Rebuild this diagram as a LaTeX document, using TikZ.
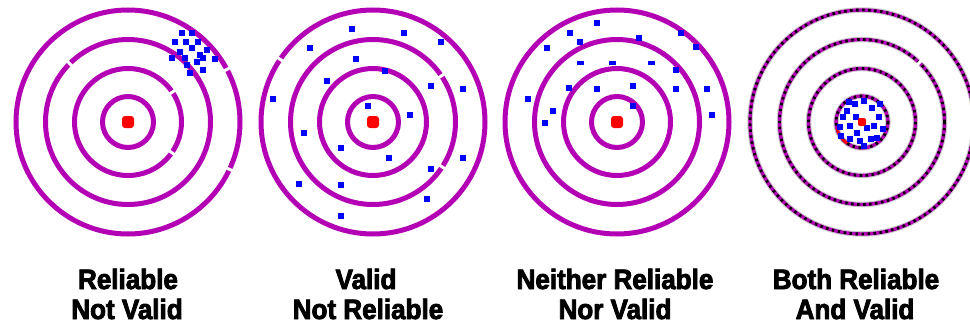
\documentclass[tikz,border=0pt]{standalone}
\usepackage{fontspec}
\newfontfamily\labfont{Liberation Sans Bold}[FakeStretch=0.93,FakeBold=3]
\definecolor{ringc}{RGB}{180,0,180}
\definecolor{hitc}{RGB}{0,0,255}
\definecolor{bullc}{RGB}{255,0,0}
\newcommand\ringgap[3]{\draw[gapline] ([shift={(#2-86/#3:#3)}]#1) arc[start angle=#2-86/#3, delta angle=172/#3, radius=#3];}
\begin{document}
\begin{tikzpicture}[x=1pt,y=-1pt,
  ring/.style={draw=ringc,line width=5pt},
  ringshade/.style={draw=gray!40,line width=5.5pt},
  ringmag/.style={draw=ringc,line width=3.4pt},
  ringdots/.style={draw=black,line width=2.8pt,dash pattern=on 2.4pt off 3.6pt},
  gapline/.style={draw=white,line width=8pt},
  bull/.style={rectangle,fill=bullc,minimum size=12pt,rounded corners=3pt,inner sep=0pt},
  hit/.style={fill=hitc},
  lab/.style={anchor=base,inner sep=0pt,font=\labfont\fontsize{28}{28}\selectfont}]
\useasboundingbox (0,0) rectangle (970,324);
\fill[white] (0,0) rectangle (970,324);
\clip (0,0) rectangle (970,324);
\coordinate (t1) at (128,122);
\coordinate (t2) at (373,122);
\coordinate (t3) at (617,122);
\coordinate (t4) at (862,122);
% target 1
\foreach \r in {112,82.5,53.5,25.5} \draw[ring] (t1) circle[radius=\r];
\ringgap{t1}{-28}{112}
\ringgap{t1}{25}{112}
\ringgap{t1}{-135}{82.5}
\ringgap{t1}{-34}{53.5}
\ringgap{t1}{35}{53.5}
\node[bull] (b1) at (t1) {};
\foreach \x/\y in {182/33,192/33,175/42,186/42,198/42,192/48,180/52,172/58,185/58,200/55,203/58,207/50,215/59,203/70,190/73,187/65,197/62}
  \fill[hit] (\x-3,\y-3) rectangle ++(6,6);
% target 2
\foreach \r in {112,82.5,53.5,25.5} \draw[ring] (t2) circle[radius=\r];
\ringgap{t2}{-146}{112}
\ringgap{t2}{-34}{82.5}
\ringgap{t2}{33}{82.5}
\node[bull] (b2) at (t2) {};
\foreach \x/\y in {352/29,404/33,441/42,310/48,356/59,385/71,327/81,431/86,463/89,273/99,368/106,410/115,304/133,341/148,389/158,463/158,431/169,299/184,341/185,427/199,341/216}
  \fill[hit] (\x-2.8,\y-2.8) rectangle ++(5.6,5.6);
% target 3
\foreach \r in {112,82.5,53.5,25.5} \draw[ring] (t3) circle[radius=\r];
\node[bull] (b3) at (t3) {};
\foreach \x/\y in {597/23,570/33,580/42,547/48,639/38,681/33,696/47,676/70,569/88,597/89,633/86,676/89,707/89,528/99,553/111,633/106,712/115,545/123}
  \fill[hit] (\x-2.8,\y-2.8) rectangle ++(5.6,5.6);
\foreach \x/\y in {580/63,612/63,651/63}
  \fill[hit] (\x-3.5,\y-1.8) rectangle ++(7,3.6);
% target 4
\foreach \r in {112,82.5,53.5,26} \draw[ringshade] (t4) circle[radius=\r];
\foreach \r in {112,82.5,53.5,26} \draw[ringmag] (t4) circle[radius=\r];
\foreach \r in {112,82.5,53.5,26} \draw[ringdots] (t4) circle[radius=\r];
\ringgap{t4}{-46}{82.5}
\draw[bullc,line width=2.5pt] ([shift={(125:26)}]t4) arc[start angle=125, end angle=165, radius=26];
\foreach \x/\y in {847/111,855/104,864/101,872/108,879/117,840/127,850/126,857/133,867/128,874/126,860/141,871/139,850/139,864/146,843/117,883/129,856/117,877/138,849/102,880/104,841/136}
  \fill[hit] (\x-3.2,\y-3.2) rectangle ++(6.4,6.4);
\node[bull,minimum size=8pt,rounded corners=2pt] (b4) at (t4) {};
% labels
\node[lab] (l1a) at (128,289) {Reliable};
\node[lab] (l1b) at (127,319) {Not Valid};
\node[lab] (l2a) at (366,289) {Valid};
\node[lab] (l2b) at (368,319) {Not Reliable};
\node[lab] (l3a) at (615,289) {Neither Reliable};
\node[lab] (l3b) at (615,319) {Nor Valid};
\node[lab] (l4a) at (856,289) {Both Reliable};
\node[lab] (l4b) at (855,319) {And Valid};
\end{tikzpicture}
\end{document}
